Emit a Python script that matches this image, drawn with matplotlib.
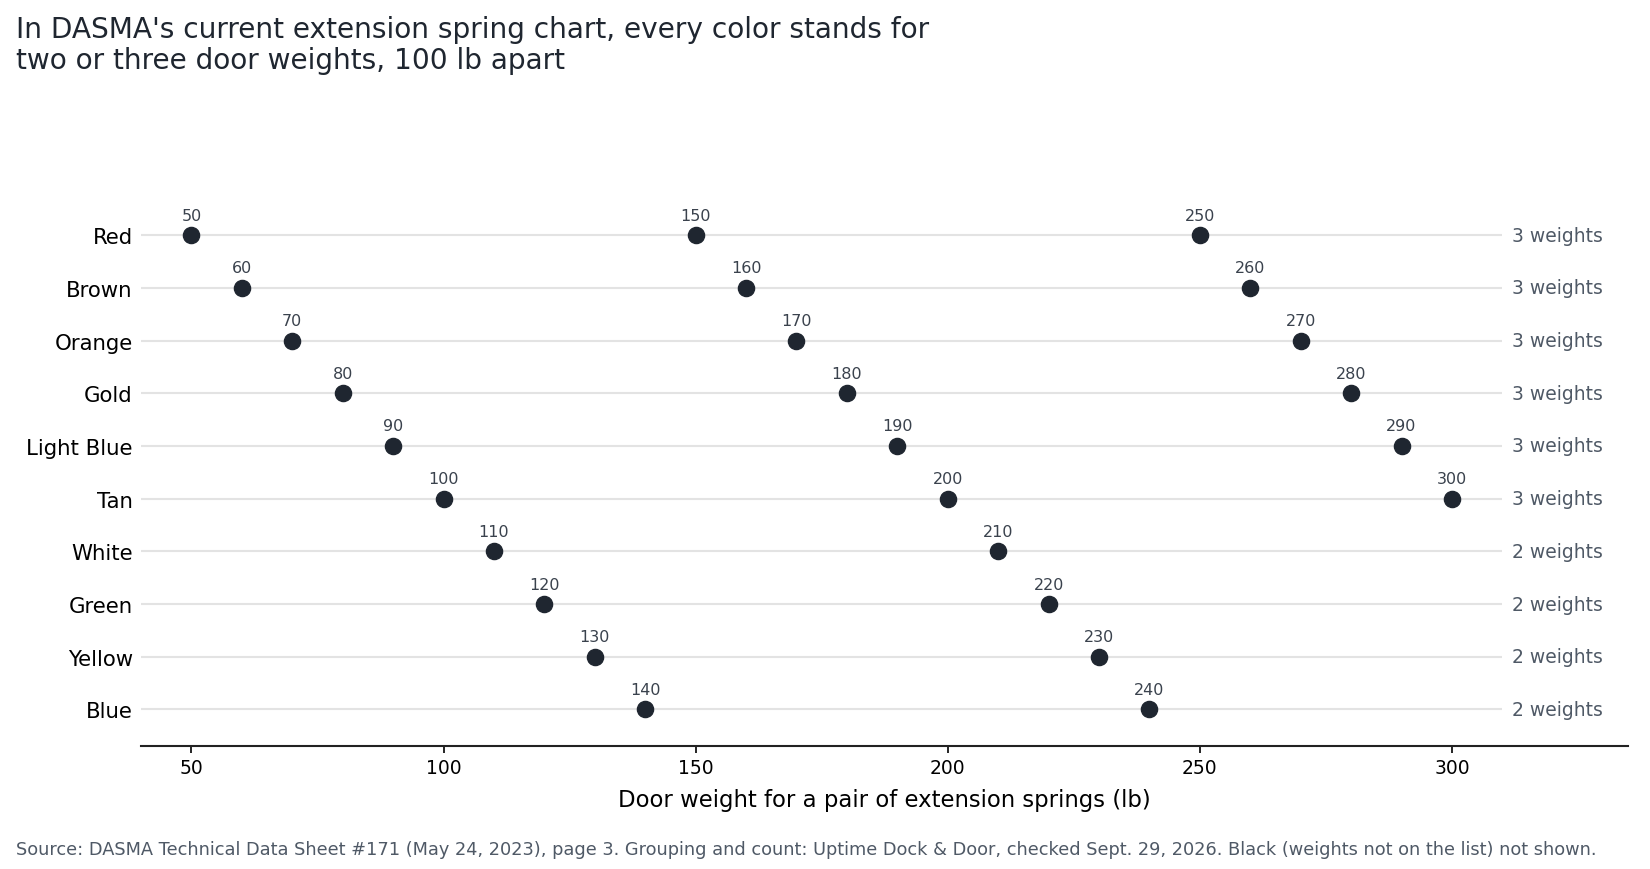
import matplotlib
matplotlib.use("Agg")
import matplotlib.pyplot as plt

colors = ["Red", "Brown", "Orange", "Gold", "Light Blue", "Tan",
          "White", "Green", "Yellow", "Blue"]
weights = [
    [50, 150, 250],
    [60, 160, 260],
    [70, 170, 270],
    [80, 180, 280],
    [90, 190, 290],
    [100, 200, 300],
    [110, 210],
    [120, 220],
    [130, 230],
    [140, 240],
]
counts = [len(w) for w in weights]

dot_color = "#1f2630"
grey_text = "#4f5966"

fig = plt.figure(figsize=(16.5, 8.7), dpi=100)
ax = fig.add_axes([0.0855, 0.141, 0.9014, 0.630])

n = len(colors)
for i, (name, ws) in enumerate(zip(colors, weights)):
    y = n - 1 - i
    ax.hlines(y, 40, 310, color="#e3e3e3", lw=1.5, zorder=1)
    ax.scatter(ws, [y] * len(ws), s=135, color=dot_color, zorder=3)
    for w in ws:
        ax.annotate(str(w), (w, y), xytext=(0, 9), textcoords="offset points",
                    ha="center", va="bottom", fontsize=11.5, color="#3a424d")
    ax.text(312, y, f"{counts[i]} weights", ha="left", va="center",
            fontsize=13.5, color=grey_text)

ax.set_xlim(40, 335)
ax.set_ylim(-0.7, n - 0.3)
ax.set_yticks(range(n))
ax.set_yticklabels(colors[::-1], fontsize=15.3)
ax.set_xticks([50, 100, 150, 200, 250, 300])
ax.tick_params(axis="x", labelsize=13.5, length=5, width=1.2)
ax.tick_params(axis="y", length=0, pad=6)
for side in ["top", "right", "left"]:
    ax.spines[side].set_visible(False)
ax.spines["bottom"].set_linewidth(1.5)
ax.spines["bottom"].set_color("#222222")
ax.set_xlabel("Door weight for a pair of extension springs (lb)", fontsize=16.4, labelpad=8)

fig.text(0.0097, 0.982, "In DASMA's current extension spring chart, every color stands for\n"
         "two or three door weights, 100 lb apart",
         ha="left", va="top", fontsize=20.2, color="#1f2630", linespacing=1.15)
fig.text(0.0097, 0.013, "Source: DASMA Technical Data Sheet #171 (May 24, 2023), page 3. "
         "Grouping and count: Uptime Dock & Door, checked Sept. 29, 2026. "
         "Black (weights not on the list) not shown.",
         ha="left", va="bottom", fontsize=12.75, color=grey_text)

fig.savefig("out.png", dpi=100)
